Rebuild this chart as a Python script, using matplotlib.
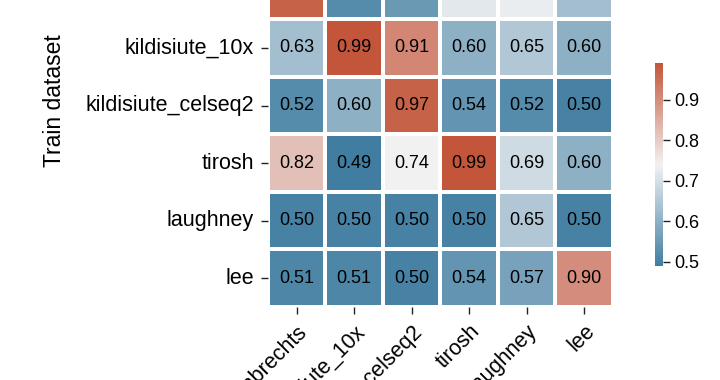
import matplotlib
matplotlib.use("Agg")
import matplotlib.pyplot as plt
import seaborn as sns
import numpy as np
import pandas as pd

plt.rcParams['font.family'] = ['Liberation Sans', 'DejaVu Sans']

datasets = ['lambrechts', 'kildisiute_10x', 'kildisiute_celseq2', 'tirosh', 'laughney', 'lee']
# rows = train dataset, columns = test dataset
lambrechts = [0.97, 0.52, 0.55, 0.72, 0.73, 0.63]
kildisiute_10x = [0.63, 0.99, 0.91, 0.60, 0.65, 0.60]
kildisiute_celseq2 = [0.52, 0.60, 0.97, 0.54, 0.52, 0.50]
tirosh = [0.82, 0.49, 0.74, 0.99, 0.69, 0.60]
laughney = [0.50, 0.50, 0.50, 0.50, 0.65, 0.50]
lee = [0.51, 0.51, 0.50, 0.54, 0.57, 0.90]
cbar_ticks = [0.5, 0.6, 0.7, 0.8, 0.9]

df = pd.DataFrame([lambrechts, kildisiute_10x, kildisiute_celseq2, tirosh, laughney, lee],
                  index=datasets, columns=datasets)

fig = plt.figure(figsize=(7.2, 3.8), dpi=100)
ax = fig.add_axes([0.372, 0.192, 0.479, 0.909])
cax = fig.add_axes([0.910, 0.30, 0.011, 0.534])

cmap = sns.diverging_palette(235, 20, as_cmap=True)
sns.heatmap(df, ax=ax, cbar_ax=cax, cmap=cmap, annot=True, fmt='.2f',
            annot_kws={'size': 13, 'color': 'black'},
            linewidths=1.5, linecolor='white', square=False,
            cbar_kws={'ticks': cbar_ticks})

ax.tick_params(axis='both', length=5, width=1, color='#222222', labelsize=15.5, pad=5)
ax.set_yticklabels(datasets, rotation=0)
ax.set_xticklabels(datasets, rotation=45, ha='right', rotation_mode='anchor')
ax.set_ylabel('Train dataset', fontsize=16.5)
ax.yaxis.set_label_coords(-0.584, 0.599)
ax.set_xlabel('')

cax.tick_params(length=5, width=1, color='#222222', labelsize=13, pad=3)

plt.savefig('out.png', dpi=100)
